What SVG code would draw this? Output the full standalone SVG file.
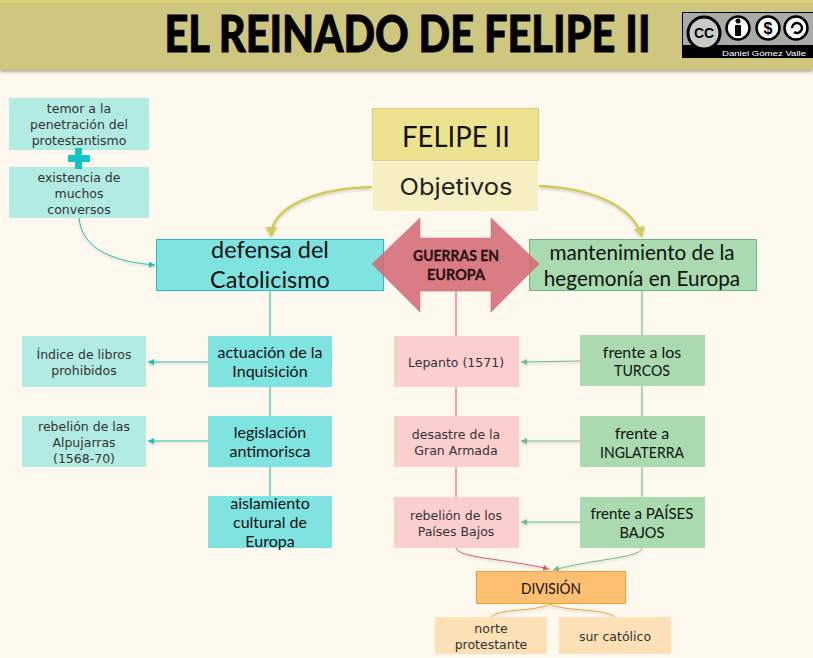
<svg xmlns="http://www.w3.org/2000/svg" width="813" height="658" viewBox="0 0 813 658">
<style>
.m{font-family:"DejaVu Sans","Noto Sans",sans-serif;font-size:12.5px;fill:#333;text-anchor:middle}
.r{font-family:"Lato","Noto Sans",sans-serif;font-size:16px;fill:#111;text-anchor:middle}
.t{fill:none;stroke:#1fbdb5;stroke-width:1}
.g{fill:none;stroke:#6db88c;stroke-width:1}
.p{fill:none;stroke:#d65c70;stroke-width:1}
.o{fill:none;stroke:#f0a030;stroke-width:1}
.y{fill:none;stroke:#d4c95c;stroke-width:2.500}
.lt{fill:#b2ebe4}.dt{fill:#7fe3df}.pk{fill:#fccfcf}.gn{fill:#a9dab0}.pe{fill:#fde0b5}
</style>
<defs>
<marker id="at" markerWidth="8" markerHeight="8" refX="6" refY="3" orient="auto" markerUnits="userSpaceOnUse"><path d="M0 0L6 3L0 6z" fill="#1fbdb5"/></marker>
<marker id="ag" markerWidth="8" markerHeight="8" refX="6" refY="3" orient="auto" markerUnits="userSpaceOnUse"><path d="M0 0L6 3L0 6z" fill="#6db88c"/></marker>
<marker id="ap" markerWidth="8" markerHeight="8" refX="6" refY="3" orient="auto" markerUnits="userSpaceOnUse"><path d="M0 0L6 3L0 6z" fill="#d65c70"/></marker>
<marker id="ay" markerWidth="14" markerHeight="14" refX="9" refY="6" orient="auto" markerUnits="userSpaceOnUse"><path d="M0 0L10 6L0 12z" fill="#d4c95c"/></marker>
<filter id="sh" x="-5%" y="-20%" width="110%" height="150%"><feDropShadow dx="0" dy="2" stdDeviation="1.5" flood-color="#000" flood-opacity=".3"/></filter>
<filter id="ls" x="-5%" y="-5%" width="110%" height="110%"><feDropShadow dx="0" dy="1.500" stdDeviation="1.200" flood-color="#000" flood-opacity=".18"/></filter>
</defs>
<rect width="813" height="658" fill="#fef9ee"/>
<g id="header">
<rect x="0" y="0" width="813" height="70" fill="#cfc680" filter="url(#sh)"/>
<rect x="0" y="0" width="813" height="3" fill="#d9cf75"/>
<text transform="translate(407.500 52) scale(1 1.400)" font-family="Lato,'Liberation Sans',sans-serif" font-weight="900" font-size="36" fill="#000" stroke="#000" stroke-width=".6" text-anchor="middle" textLength="486" lengthAdjust="spacingAndGlyphs">EL REINADO DE FELIPE II</text>
</g>
<g id="license">
<rect x="682" y="12" width="131" height="46" fill="#000"/>
<rect x="683" y="13" width="130" height="32" fill="#a9aca6"/>
<circle cx="704" cy="33" r="16" fill="#c9ccc6" stroke="#000" stroke-width="3"/>
<text x="704" y="38" font-family="'Liberation Sans',sans-serif" font-weight="700" font-size="14" text-anchor="middle" fill="#000">CC</text>
<circle cx="738" cy="28" r="11.500" fill="#fff" stroke="#000" stroke-width="2.500"/>
<circle cx="738" cy="21" r="2.500" fill="#000"/><rect x="735" y="25" width="6" height="11" rx="1" fill="#000"/>
<circle cx="768" cy="28" r="11.500" fill="#fff" stroke="#000" stroke-width="2.500"/>
<text x="768" y="34" font-family="'Liberation Sans',sans-serif" font-weight="700" font-size="16" text-anchor="middle" fill="#000">$</text>
<circle cx="796" cy="28" r="11.500" fill="#fff" stroke="#000" stroke-width="2.500"/>
<path d="M792 28a5 5 0 1 1 2 4" fill="none" stroke="#000" stroke-width="2.500"/>
<text x="764" y="56" font-family="'Liberation Sans',sans-serif" font-size="8" text-anchor="middle" fill="#fff" textLength="84" lengthAdjust="spacingAndGlyphs">Daniel Gómez Valle</text>
</g>
<g id="connectors" filter="url(#ls)">
<path class="t" d="M79 218C82 250 115 262 155 265" marker-end="url(#at)"/>
<path class="y" d="M372 187C320 188 272 205 271 236" marker-end="url(#ay)"/>
<path class="y" d="M539 186C590 188 632 205 642 236" marker-end="url(#ay)"/>
<path class="t" d="M270 290V336M270 387V416M270 467V496"/>
<path class="t" d="M208 362H148" marker-end="url(#at)"/>
<path class="t" d="M208 441H148" marker-end="url(#at)"/>
<path class="p" d="M456 291V336M456 387V416M456 467V497"/>
<path class="g" d="M642 290V335M642 386V416M642 467V497"/>
<path class="g" d="M580 361L521 362" marker-end="url(#ag)"/>
<path class="g" d="M580 441H521" marker-end="url(#ag)"/>
<path class="g" d="M580 522H521" marker-end="url(#ag)"/>
<path class="p" d="M456 548C459 558 500 558 549 569" marker-end="url(#ap)"/>
<path class="g" d="M642 548C640 558 600 558 553 570" marker-end="url(#ag)"/>
<path class="o" d="M550 604C535 612 500 608 491 617"/>
<path class="o" d="M550 604C565 612 605 608 615 617"/>
</g>
<g id="n-temor"><rect class="lt" x="9" y="98" width="140" height="52"/><text class="m"><tspan x="79" y="113">temor a la</tspan><tspan x="79" y="129">penetración del</tspan><tspan x="79" y="145">protestantismo</tspan></text></g>
<g id="n-existencia"><rect class="lt" x="9" y="167" width="140" height="51"/><text class="m"><tspan x="79" y="182">existencia de</tspan><tspan x="79" y="198">muchos</tspan><tspan x="79" y="214">conversos</tspan></text></g>
<g id="n-plus"><path d="M75 148H82V155H90V162H82V169H75V162H68V155H75z" fill="#14c4c4"/></g>
<g id="n-felipe"><rect x="372.500" y="108.500" width="166" height="52" fill="#ece28f" stroke="#d8cd75"/><text x="456" y="147" font-family="Lato,'Noto Sans',sans-serif" font-size="29" fill="#111" text-anchor="middle" textLength="108" lengthAdjust="spacingAndGlyphs">FELIPE II</text></g>
<g id="n-objetivos"><rect x="373" y="162" width="165" height="49" fill="#f5efc2"/><text x="456" y="195" font-family="Inter,'Noto Sans',sans-serif" font-size="23" fill="#222" text-anchor="middle" textLength="113" lengthAdjust="spacingAndGlyphs">Objetivos</text></g>
<g id="n-defensa"><rect x="156.500" y="239.500" width="227" height="51" fill="#7fe3df" stroke="#2bbcbc"/><text font-family="Lato,'Noto Sans',sans-serif" font-size="23.500" fill="#111" text-anchor="middle"><tspan x="270" y="258">defensa del</tspan><tspan x="270" y="288">Catolicismo</tspan></text></g>
<g id="n-mantenimiento"><rect x="529.500" y="239.500" width="227" height="51" fill="#a9dab0" stroke="#6ab584"/><text font-family="Lato,'Noto Sans',sans-serif" font-size="20.700" fill="#111" text-anchor="middle"><tspan x="642" y="260">mantenimiento de la</tspan><tspan x="642" y="286">hegemonía en Europa</tspan></text></g>
<g id="n-guerras"><path d="M372 264L420 218V238H491V218L539 264L491 312V291H420V312z" fill="#d46a77" fill-opacity=".88" stroke="#d46a77" stroke-opacity=".6"/><text font-family="Lato,'Noto Sans',sans-serif" font-weight="700" font-size="15" fill="#2a1010" stroke="#2a1010" stroke-width=".3" text-anchor="middle"><tspan x="456" y="261" textLength="86" lengthAdjust="spacingAndGlyphs">GUERRAS EN</tspan><tspan x="456" y="280" textLength="58" lengthAdjust="spacingAndGlyphs">EUROPA</tspan></text></g>
<g id="n-actuacion"><rect class="dt" x="208" y="336" width="124" height="51"/><text class="r"><tspan x="270" y="358">actuación de la</tspan><tspan x="270" y="377">Inquisición</tspan></text></g>
<g id="n-legislacion"><rect class="dt" x="208" y="416" width="124" height="51"/><text class="r"><tspan x="270" y="438">legislación</tspan><tspan x="270" y="457">antimorisca</tspan></text></g>
<g id="n-aislamiento"><rect class="dt" x="208" y="496" width="124" height="52"/><text class="r"><tspan x="270" y="509">aislamiento</tspan><tspan x="270" y="528">cultural de</tspan><tspan x="270" y="547">Europa</tspan></text></g>
<g id="n-indice"><rect class="lt" x="22" y="336" width="124" height="51"/><text class="m"><tspan x="84" y="359">Índice de libros</tspan><tspan x="84" y="375">prohibidos</tspan></text></g>
<g id="n-alpujarras"><rect class="lt" x="22" y="416" width="124" height="51"/><text class="m"><tspan x="84" y="431">rebelión de las</tspan><tspan x="84" y="447">Alpujarras</tspan><tspan x="84" y="463">(1568-70)</tspan></text></g>
<g id="n-lepanto"><rect class="pk" x="394" y="336" width="125" height="51"/><text class="m" x="456" y="367">Lepanto (1571)</text></g>
<g id="n-armada"><rect class="pk" x="394" y="416" width="125" height="51"/><text class="m"><tspan x="456" y="439">desastre de la</tspan><tspan x="456" y="455">Gran Armada</tspan></text></g>
<g id="n-paises"><rect class="pk" x="394" y="497" width="125" height="51"/><text class="m"><tspan x="456" y="520">rebelión de los</tspan><tspan x="456" y="536">Países Bajos</tspan></text></g>
<g id="n-turcos"><rect class="gn" x="580" y="335" width="125" height="51"/><text class="r"><tspan x="642" y="358">frente a los</tspan><tspan x="642" y="376" textLength="56" lengthAdjust="spacingAndGlyphs">TURCOS</tspan></text></g>
<g id="n-inglaterra"><rect class="gn" x="580" y="416" width="125" height="51"/><text class="r"><tspan x="642" y="439">frente a</tspan><tspan x="642" y="458" textLength="84" lengthAdjust="spacingAndGlyphs">INGLATERRA</tspan></text></g>
<g id="n-frente-paises"><rect class="gn" x="580" y="497" width="125" height="51"/><text class="r"><tspan x="642" y="519" textLength="103" lengthAdjust="spacingAndGlyphs">frente a PAÍSES</tspan><tspan x="642" y="538" textLength="45" lengthAdjust="spacingAndGlyphs">BAJOS</tspan></text></g>
<g id="n-division"><rect x="476.500" y="571.500" width="149" height="32" fill="#ffbf70" stroke="#f0a030"/><text class="r" x="551" y="594" textLength="60" lengthAdjust="spacingAndGlyphs">DIVISIÓN</text></g>
<g id="n-norte"><rect class="pe" x="435" y="617" width="112" height="37"/><text class="m"><tspan x="491" y="633">norte</tspan><tspan x="491" y="649">protestante</tspan></text></g>
<g id="n-sur"><rect class="pe" x="559" y="617" width="112" height="37"/><text class="m" x="615" y="641">sur católico</text></g>
</svg>
